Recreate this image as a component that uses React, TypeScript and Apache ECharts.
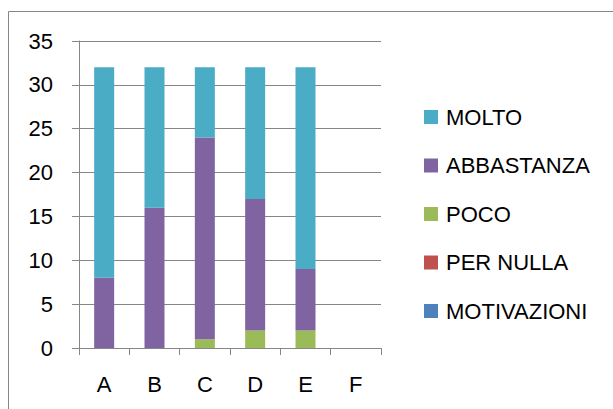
import React, { useEffect, useRef } from "react";
import * as echarts from "echarts";

const categories = ["A", "B", "C", "D", "E", "F"];
const motivazioni = [0, 0, 0, 0, 0, 0];
const perNulla = [0, 0, 0, 0, 0, 0];
const poco = [0, 0, 1, 2, 2, 0];
const abbastanza = [8, 16, 23, 15, 7, 0];
const molto = [24, 16, 8, 15, 23, 0];
const yTicks = [0, 5, 10, 15, 20, 25, 30, 35];

const FONT = "'Liberation Sans', Arial, sans-serif";
const GRAY = "#868686";

export default function App() {
  const ref = useRef<HTMLDivElement>(null);
  useEffect(() => {
    const chart = echarts.init(ref.current!, null, { renderer: "svg" });
    const mk = (name: string, data: number[], color: string) => ({
      name,
      type: "bar",
      stack: "s",
      data,
      barWidth: 20,
      itemStyle: { color },
      emphasis: { disabled: true },
    });
    chart.setOption({
      animation: false,
      backgroundColor: "#fff",
      textStyle: { fontFamily: FONT },
      graphic: [
        {
          type: "rect",
          shape: { x: 8.5, y: 11.5, width: 700, height: 500 },
          style: { fill: "none", stroke: GRAY, lineWidth: 1 },
          silent: true,
        },
      ],
      grid: { left: 79, top: 41, right: 232, bottom: 61 },
      legend: {
        orient: "vertical",
        left: 424,
        top: 106,
        padding: 0,
        itemWidth: 14,
        itemHeight: 14,
        itemGap: 26.5,
        icon: "rect",
        data: ["MOLTO", "ABBASTANZA", "POCO", "PER NULLA", "MOTIVAZIONI"],
        textStyle: { fontSize: 22, lineHeight: 21, color: "#000", fontFamily: FONT, padding: [0, 0, 0, 3] },
      },
      xAxis: {
        type: "category",
        data: categories,
        axisLine: { show: true, lineStyle: { color: GRAY } },
        axisTick: { show: true, length: 7, lineStyle: { color: GRAY }, alignWithLabel: false },
        axisLabel: { margin: 25, fontSize: 22, color: "#000", fontFamily: FONT },
      },
      yAxis: {
        type: "value",
        min: yTicks[0],
        max: yTicks[yTicks.length - 1],
        interval: 5,
        axisLine: { show: true, lineStyle: { color: GRAY } },
        axisTick: { show: true, length: 7, lineStyle: { color: GRAY } },
        splitLine: { show: true, lineStyle: { color: GRAY } },
        axisLabel: { margin: 26, fontSize: 22, color: "#000", fontFamily: FONT },
      },
      series: [
        mk("MOTIVAZIONI", motivazioni, "#4F81BD"),
        mk("PER NULLA", perNulla, "#C0504D"),
        mk("POCO", poco, "#9BBB59"),
        mk("ABBASTANZA", abbastanza, "#8064A2"),
        mk("MOLTO", molto, "#4BACC6"),
      ],
    });
    return () => chart.dispose();
  }, []);
  return (
    <div
      ref={ref}
      style={{ position: "fixed", left: 0, top: 0, width: 613, height: 409 }}
    />
  );
}
